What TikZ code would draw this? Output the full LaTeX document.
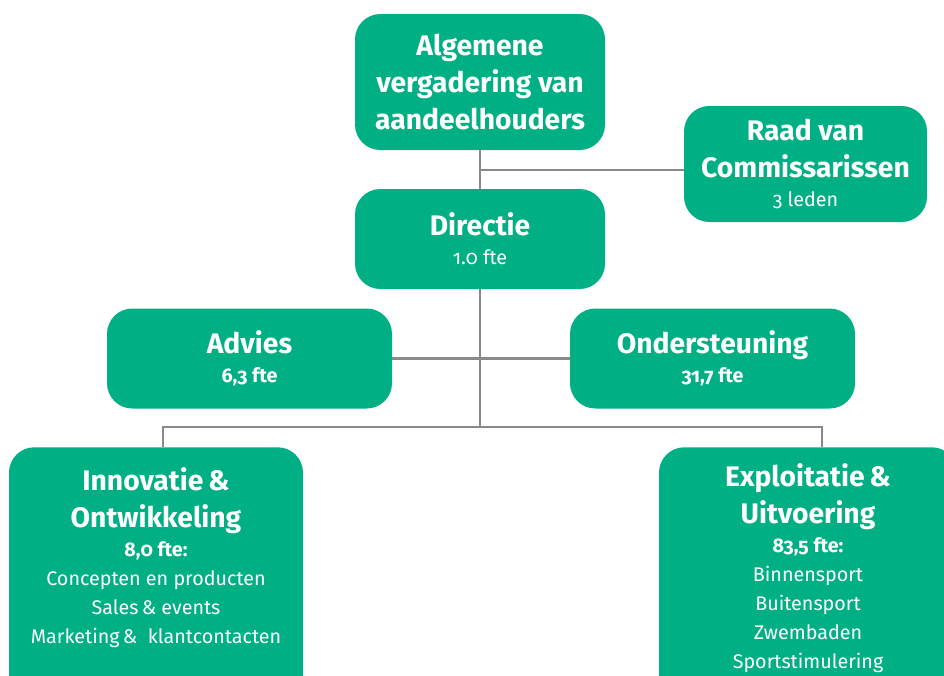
\documentclass[tikz,border=0pt]{standalone}
\usepackage{fontspec}
\setmainfont{Fira Sans}[Numbers=OldStyle]
\usetikzlibrary{positioning}
\definecolor{orggreen}{RGB}{0,176,132}
\definecolor{linegray}{RGB}{138,138,138}
\newcommand{\klein}{\fontsize{14.8}{21.75}\selectfont\mdseries}

\begin{document}
\begin{tikzpicture}[x=0.75pt,y=-0.75pt,
		org node/.style={rectangle,rounded corners=19pt,fill=orggreen,
			text=white,align=center,inner sep=0pt,
			font=\fontsize{21.2}{27.75}\selectfont\bfseries},
		open node/.style={org node,anchor=north,text depth=100pt},
		lijn/.style={draw=linegray,line width=1.8pt}]
	
	\useasboundingbox (0,0) rectangle (944,675);
	\clip (0,0) rectangle (944,675);
	
	% bovenste laag
	\node[org node,minimum width=187.5pt,minimum height=102pt] (ava) at (480,82)
		{Algemene\\vergadering van\\aandeelhouders};
	\node[org node,minimum width=182.25pt,minimum height=87pt] (rvc) at (805.5,164)
		{Raad van\\Commissarissen\\[-6pt]\klein 3 leden};
	\node[org node,minimum width=187.5pt,minimum height=75pt] (dir) at (480,239)
		{Directie\\[-6pt]\klein 1.0 fte};
	
	% staf
	\node[org node,minimum width=213.75pt,minimum height=75pt] (adv) at (249.5,358.5)
		{Advies\\[-6pt]\klein\bfseries 6,3 fte};
	\node[org node,minimum width=213.75pt,minimum height=75pt] (ond) at (712.5,358.5)
		{Ondersteuning\\[-6pt]\klein\bfseries 31,7 fte};
	
	% afdelingen
	\node[open node,minimum width=220.5pt,inner ysep=15pt] (io) at (156,447)
		{Innovatie\,\&\\Ontwikkeling\\[-6pt]\klein\bfseries 8,0 fte:\\[-6pt]
		\klein Concepten en producten\\[-6pt]\klein Sales\,\& events\\[-6pt]
		\klein Marketing\,\&\ \ klantcontacten};
	\node[open node,minimum width=223.5pt,inner ysep=12pt] (eu) at (808,447)
		{Exploitatie\,\&\\Uitvoering\\[-6pt]\klein\bfseries 83,5 fte:\\[-6pt]
		\klein Binnensport\\[-6pt]\klein Buitensport\\[-6pt]\klein Zwembaden\\[-6pt]
		\klein Sportstimulering};
	
	\coordinate (tak1) at (480,170);
	\coordinate (tak2) at (480,427);
	\coordinate (links) at (163,427);
	\coordinate (rechts) at (822,427);
	
	\draw[lijn] (ava) -- (dir);
	\draw[lijn] (tak1) -- (tak1 -| rvc.west);
	\draw[lijn] (dir) -- (tak2);
	\draw[lijn] (adv) -- (ond);
	\draw[lijn] (links |- io.north) -- (links) -- (rechts) -- (rechts |- eu.north);
\end{tikzpicture}
\end{document}
